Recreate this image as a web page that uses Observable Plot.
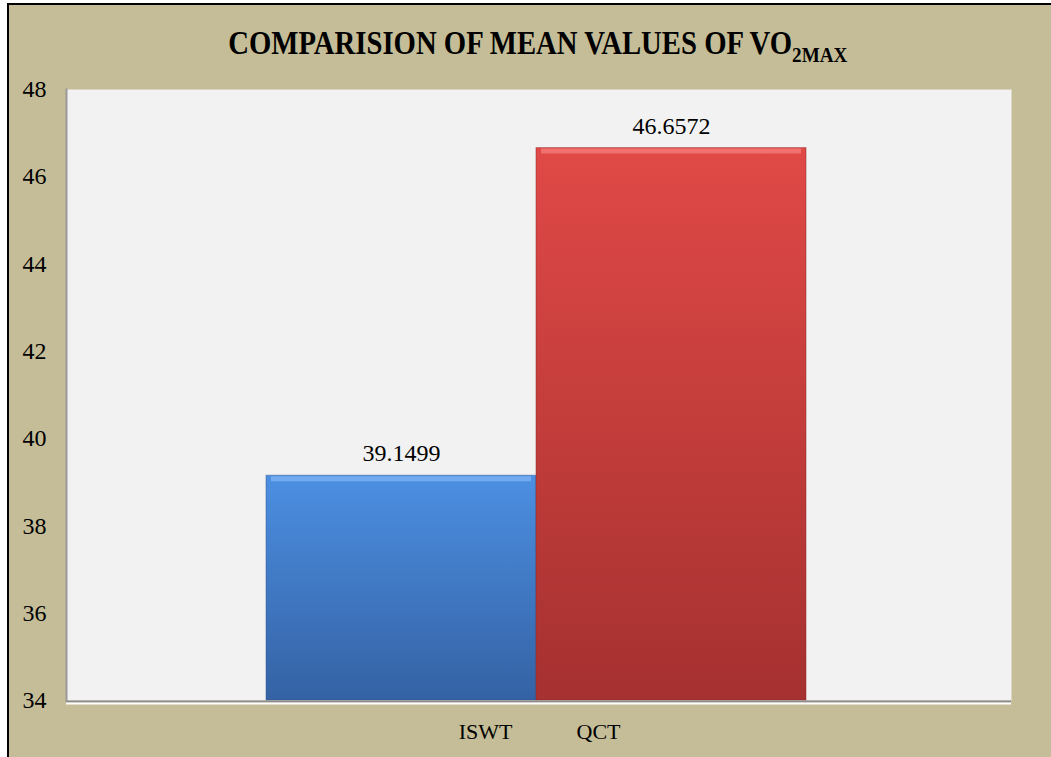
<!DOCTYPE html>
<html>
<head>
<meta charset="utf-8">
<script src="https://cdn.jsdelivr.net/npm/d3@7"></script>
<script src="https://cdn.jsdelivr.net/npm/@observablehq/plot@0.6"></script>
<style>
  html, body { margin: 0; padding: 0; width: 1051px; height: 757px; overflow: hidden; background: #ffffff; }
  #frame { position: absolute; left: 7px; top: 3px; width: 1100px; height: 800px; background: #C4BD97; border-left: 2px solid #000; border-top: 2px solid #000; }
  #chart { position: absolute; left: 0; top: 0; }
  #chart svg text { font-family: "Liberation Serif", "DejaVu Serif", serif; }
  #title { position: absolute; left: 0; top: 25px; width: 1076px; text-align: center; font-family: "Liberation Serif", "DejaVu Serif", serif; font-weight: bold; font-size: 33px; color: #000; white-space: nowrap; }
  #title span.t { display: inline-block; transform: scaleX(0.87); transform-origin: center; }
  #title sub { font-size: 22px; vertical-align: -8px; }
</style>
</head>
<body>
<div id="frame"></div>
<div id="chart"></div>
<div id="title"><span class="t">COMPARISION OF MEAN VALUES OF VO<sub>2MAX</sub></span></div>
<script>
const categories = ["ISWT", "QCT"];
const values = [39.1499, 46.6572];
const valueLabels = ["39.1499", "46.6572"];
const yTicks = [34, 36, 38, 40, 42, 44, 46, 48];
const yMin = 34;
const yMax = 48;
const gradIds = ["gradBlue", "gradRed"];
const highlight = ["#79B0F2", "#F27875"];
const edge = ["#2F5A96", "#8E2A28"];
const labelShift = [84, -73];
const serif = "'Liberation Serif', 'DejaVu Serif', serif";

const data = categories.map((c, i) => ({cat: c, value: values[i], label: valueLabels[i], grad: `url(#${gradIds[i]})`, hi: highlight[i], edge: edge[i]}));

const defs = () => {
  const d = d3.create("svg:defs");
  const stops = {
    gradBlue: [["0%", "#4C8FE2"], ["100%", "#3462A4"]],
    gradRed: [["0%", "#E04946"], ["100%", "#A53130"]]
  };
  for (const id of gradIds) {
    const g = d.append("linearGradient").attr("id", id).attr("x1", 0).attr("y1", 0).attr("x2", 0).attr("y2", 1);
    for (const [o, c] of stops[id]) g.append("stop").attr("offset", o).attr("stop-color", c);
  }
  return d.node();
};

const chart = Plot.plot({
  width: 1051,
  height: 757,
  marginLeft: 66,
  marginRight: 40,
  marginTop: 89,
  marginBottom: 57,
  style: {background: "transparent", fontFamily: serif, fontSize: "24px", color: "#000", overflow: "visible"},
  x: {domain: categories, paddingInner: 0, paddingOuter: 0.75, align: 0.495, axis: null, label: null},
  y: {domain: [yMin, yMax], ticks: yTicks, axis: null, label: null},
  marks: [
    defs,
    Plot.frame({fill: "#F2F2F2"}),
    Plot.frame({anchor: "left", stroke: "#9a9a9a", strokeWidth: 2}),
    Plot.barY(data, {x: "cat", y1: yMin, y2: "value", fill: "grad", stroke: "edge", strokeOpacity: 0.5, strokeWidth: 1}),
    Plot.tickY(data, {x: "cat", y: "value", stroke: "hi", strokeWidth: 5, dy: 3, insetLeft: 5, insetRight: 5, strokeOpacity: 0.85}),
    Plot.ruleY([yMin], {stroke: "#8c8c8c", strokeWidth: 2, dy: 1}),
    Plot.ruleY([yMin], {stroke: "#ffffff", strokeWidth: 2, dy: 3}),
    Plot.text(data, {x: "cat", y: "value", text: "label", dy: -22, fontSize: 24, fontFamily: serif, fill: "#000"}),
    Plot.axisY(yTicks, {tickSize: 0, tickPadding: 20, fontSize: 24, fontFamily: serif, fill: "#000", label: null}),
    Plot.text(data.filter((d, i) => i === 0), {x: "cat", y: yMin, text: "cat", frameAnchor: "bottom", dy: 38, dx: labelShift[0], fontSize: 22, fontFamily: serif, fill: "#000"}),
    Plot.text(data.filter((d, i) => i === 1), {x: "cat", y: yMin, text: "cat", frameAnchor: "bottom", dy: 38, dx: labelShift[1], fontSize: 22, fontFamily: serif, fill: "#000"})
  ]
});
document.getElementById("chart").appendChild(chart);
</script>
</body>
</html>
